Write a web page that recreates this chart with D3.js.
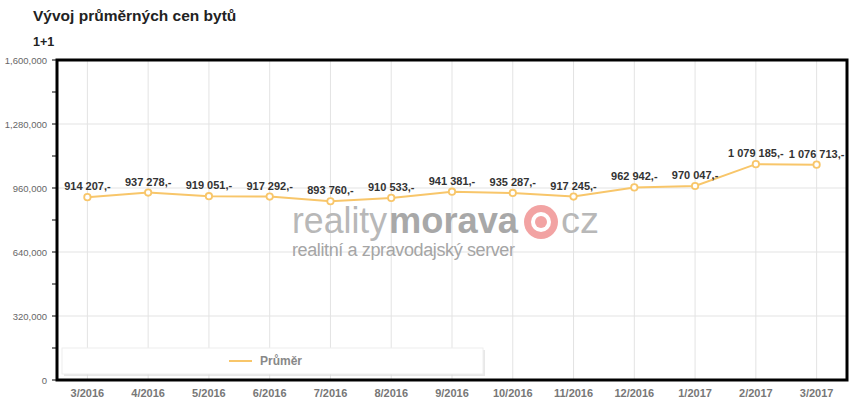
<!DOCTYPE html>
<html><head><meta charset="utf-8">
<script src="https://cdn.jsdelivr.net/npm/d3@7"></script>
<style>body{margin:0;background:#fff;} text{font-family:Arial,"Liberation Sans",sans-serif;}</style>
</head><body><svg id="c" width="852" height="409"></svg>
<script>
const categories = ["3/2016","4/2016","5/2016","6/2016","7/2016","8/2016","9/2016","10/2016","11/2016","12/2016","1/2017","2/2017","3/2017"];
const values = [914207,937278,919051,917292,893760,910533,941381,935287,917245,962942,970047,1079185,1076713];
const valueLabels = ["914 207,-","937 278,-","919 051,-","917 292,-","893 760,-","910 533,-","941 381,-","935 287,-","917 245,-","962 942,-","970 047,-","1 079 185,-","1 076 713,-"];
const yTicks = [0,320000,640000,960000,1280000,1600000];
const yMinor = [160000,480000,800000,1120000,1440000];
const seriesName = "Průměr";

const svg = d3.select("#c");
const L=57, R=847, T=60, B=380;
const x = d3.scaleBand().domain(categories).range([L,R]);
const y = d3.scaleLinear().domain([0,1600000]).range([B,T]);
const cx = d => x(d)+x.bandwidth()/2;

svg.append("text").attr("x",33).attr("y",21).attr("font-size",15.5).attr("font-weight","bold").attr("fill","#222").text("Vývoj průměrných cen bytů");
svg.append("text").attr("x",33).attr("y",46).attr("font-size",12.5).attr("font-weight","bold").attr("fill","#222").text("1+1");

// grid
svg.append("g").selectAll("line").data(yTicks).join("line")
  .attr("x1",L).attr("x2",R).attr("y1",d=>y(d)).attr("y2",d=>y(d)).attr("stroke","#e3e3e3");
svg.append("g").selectAll("line").data(categories).join("line")
  .attr("x1",cx).attr("x2",cx).attr("y1",T).attr("y2",B).attr("stroke","#e3e3e3");

// watermark
const wm = svg.append("g");
wm.append("text").attr("x",292).attr("y",233).attr("font-size",37).attr("font-weight","300").attr("font-family","Lato, sans-serif")
  .attr("fill","#b8b8b8").attr("textLength",95).attr("lengthAdjust","spacingAndGlyphs").text("reality");
wm.append("text").attr("x",389).attr("y",233).attr("font-size",37).attr("font-weight","bold").attr("font-family","Lato, sans-serif")
  .attr("fill","#a8a8a8").attr("textLength",129).attr("lengthAdjust","spacingAndGlyphs").text("morava");
wm.append("circle").attr("cx",541).attr("cy",222).attr("r",17).attr("fill","#f2a3a3");
wm.append("circle").attr("cx",541).attr("cy",222).attr("r",10).attr("fill","#fff");
wm.append("circle").attr("cx",541).attr("cy",222).attr("r",6).attr("fill","#f2a3a3");
wm.append("text").attr("x",561).attr("y",233).attr("font-size",37).attr("font-weight","300").attr("font-family","Lato, sans-serif")
  .attr("fill","#b8b8b8").attr("textLength",38).attr("lengthAdjust","spacingAndGlyphs").text("cz");
wm.append("text").attr("x",292).attr("y",256).attr("font-size",18).attr("font-weight","300").attr("font-family","Lato, sans-serif").attr("fill","#a5a5a5").attr("textLength",223).text("realitní a zpravodajský server");

// legend box
const lg = svg.append("g");
lg.append("rect").attr("x",64).attr("y",350).attr("width",421).attr("height",26).attr("fill","#d8d8d8").attr("opacity",0.6);
lg.append("rect").attr("x",62).attr("y",348).attr("width",421).attr("height",26).attr("fill","#fff").attr("stroke","#eee");
lg.append("line").attr("x1",229).attr("x2",252).attr("y1",361).attr("y2",361).attr("stroke","#f8c66a").attr("stroke-width",2);
lg.append("text").attr("x",260).attr("y",365).attr("font-size",12).attr("font-weight","bold").attr("fill","#888").text(seriesName);

// line
const line = d3.line().x((d,i)=>cx(categories[i])).y(d=>y(d));
svg.append("path").datum(values).attr("d",line).attr("fill","none").attr("stroke","#f8c66a").attr("stroke-width",2);
svg.append("g").selectAll("circle").data(values).join("circle")
  .attr("cx",(d,i)=>cx(categories[i])).attr("cy",d=>y(d)).attr("r",3.2)
  .attr("fill","#fff").attr("stroke","#f8c66a").attr("stroke-width",1.8);
svg.append("g").selectAll("text").data(values).join("text")
  .attr("x",(d,i)=>cx(categories[i])).attr("y",d=>y(d)-7).attr("text-anchor","middle")
  .attr("font-size",11).attr("font-weight","bold").attr("fill","#333").text((d,i)=>valueLabels[i]);

// frame
svg.append("rect").attr("x",L).attr("y",T).attr("width",R-L).attr("height",B-T).attr("fill","none").attr("stroke","#000").attr("stroke-width",3);

// y axis labels and ticks
svg.append("g").selectAll("text").data(yTicks).join("text")
  .attr("x",47).attr("y",d=>y(d)+3.5).attr("text-anchor","end").attr("font-size",9.5).attr("fill","#666")
  .text(d=>d3.format(",")(d));
svg.append("g").selectAll("line").data(yTicks.concat(yMinor)).join("line")
  .attr("x1",52).attr("x2",L).attr("y1",d=>y(d)).attr("y2",d=>y(d)).attr("stroke","#000").attr("stroke-width",1);

// x labels
svg.append("g").selectAll("text").data(categories).join("text")
  .attr("x",cx).attr("y",397).attr("text-anchor","middle").attr("font-size",11).attr("font-weight","bold").attr("fill","#777").text(d=>d);
</script></body></html>
